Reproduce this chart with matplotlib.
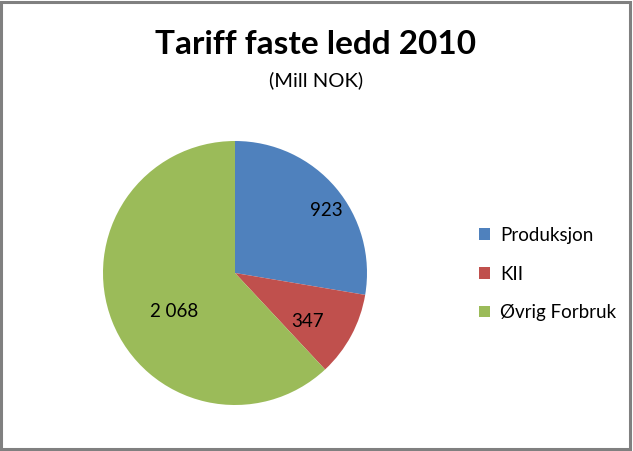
import matplotlib
matplotlib.use("Agg")
import matplotlib.pyplot as plt
from matplotlib.patches import Rectangle, Patch

categories = ["Produksjon", "KII", "Øvrig Forbruk"]
values = [923, 347, 2068]
colors = ["#4F81BD", "#C0504D", "#9BBB59"]
title = "Tariff faste ledd 2010"
subtitle = "(Mill NOK)"

W, H = 633, 451
fig = plt.figure(figsize=(W / 100, H / 100), dpi=100)
fig.patch.set_facecolor("white")

# border
fig.add_artist(Rectangle((1 / W, 2 / H), (W - 4) / W, (H - 4) / H, transform=fig.transFigure,
                         fill=False, edgecolor="#808080", linewidth=2.2))

cx, cy, r = 235, 273, 132
ax = fig.add_axes([(cx - r) / W, (H - cy - r) / H, 2 * r / W, 2 * r / H])
wedges, texts, autotexts = ax.pie(
    values, colors=colors, startangle=90, counterclock=False, radius=1,
    autopct=lambda p: "", pctdistance=0.7, wedgeprops=dict(linewidth=0))
ax.set_xlim(-1, 1)
ax.set_ylim(-1, 1)
ax.set_aspect("auto")
ax.axis("off")

label_pos = [(0.69, 0.47), (0.55, -0.37), (-0.46, -0.29)]
for t, v, pos in zip(autotexts, values, label_pos):
    t.set_text(f"{v:,}".replace(",", " "))
    t.set_position(pos)
    t.set_fontsize(13.5)
    t.set_fontfamily("Lato")
    t.set_color("black")
    t.set_ha("center")
    t.set_va("center")

fig.text(316 / W, 1 - 45 / H, title, ha="center", va="center", fontsize=24,
         fontweight="bold", family="Lato")
fig.text(316 / W, 1 - 80 / H, subtitle, ha="center", va="center", fontsize=14.5,
         family="Lato")

handles = [Patch(facecolor=c, edgecolor="none") for c in colors]
leg = fig.legend(handles, categories, loc="center left",
                 bbox_to_anchor=(462 / W, 1 - 274 / H), frameon=False,
                 prop=dict(family="Lato", size=13.5), handlelength=0.6,
                 handleheight=0.6, handletextpad=0.55, labelspacing=1.15)

fig.savefig("out.png", dpi=100, facecolor="white")
